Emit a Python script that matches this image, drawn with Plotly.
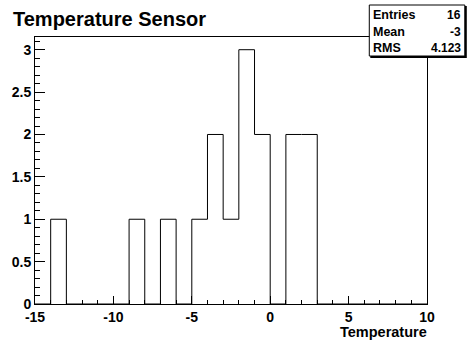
import plotly.graph_objects as go

# ---- data ----
bin_edges = list(range(-15, 11))
counts = [0, 1, 0, 0, 0, 0, 1, 0, 1, 0, 1, 2, 1, 3, 2, 0, 2, 2,
          0, 0, 0, 0, 0, 0, 0]
stat_names = ["Entries", "Mean", "RMS"]
stat_values = ["16", "-3", "4.123"]
title_text = "Temperature Sensor"
x_title = "Temperature"
x_ticks = [-15, -10, -5, 0, 5, 10]
y_ticks = [0, 0.5, 1, 1.5, 2, 2.5, 3]

W, H = 467, 345
L, R, T, B = 33, 427, 37, 304

def px(x):
    return (x - L) / (R - L)

def py(y):
    return (B - y) / (B - T)

FONT = "Liberation Sans, Arial, Helvetica, sans-serif"

fig = go.Figure()
fig.add_trace(go.Scatter(
    x=bin_edges, y=counts + [0], mode="lines", line_shape="hv",
    line=dict(color="black", width=1), hoverinfo="skip", showlegend=False))

axis_common = dict(
    showline=True, mirror=True, linecolor="black", linewidth=1,
    showgrid=False, zeroline=False, ticks="inside", tickcolor="black",
    tickwidth=1,
    tickfont=dict(family=FONT, size=14, color="black"),
)

fig.update_xaxes(range=[-15, 10], tickvals=x_ticks, ticklen=8,
                 ticktext=["<b>%g</b>" % v for v in x_ticks],
                 minor=dict(dtick=1, ticks="inside", ticklen=4, tickcolor="black"),
                 **axis_common)
fig.update_yaxes(range=[0, 3.15], tickvals=y_ticks, ticklen=10,
                 ticktext=["<b>%g</b>" % v for v in y_ticks],
                 minor=dict(dtick=0.1, ticks="inside", ticklen=5, tickcolor="black"),
                 **axis_common)

shapes = [
    # shadow of stats box
    dict(type="rect", xref="paper", yref="paper",
         x0=px(370), x1=px(467), y0=py(58), y1=py(6),
         fillcolor="black", line=dict(width=0), layer="above"),
    dict(type="rect", xref="paper", yref="paper",
         x0=px(369), x1=px(465), y0=py(56), y1=py(5),
         fillcolor="white", line=dict(color="black", width=1), layer="above"),
]

annotations = [
    dict(text="<b>%s</b>" % title_text, xref="paper", yref="paper", x=px(9), y=py(19),
         xanchor="left", yanchor="middle", showarrow=False,
         font=dict(family=FONT, size=20, color="black")),
    dict(text="<b>%s</b>" % x_title, xref="paper", yref="paper", x=px(429), y=py(332),
         xanchor="right", yanchor="middle", showarrow=False,
         font=dict(family=FONT, size=14.5, color="black")),
]
row_y = [15, 32, 48]
for name, val, yy in zip(stat_names, stat_values, row_y):
    annotations.append(dict(text="<b>%s</b>" % name, xref="paper", yref="paper", x=px(371), y=py(yy),
                            xanchor="left", yanchor="middle", showarrow=False,
                            font=dict(family=FONT, size=12.5, color="black")))
    annotations.append(dict(text="<b>%s</b>" % val, xref="paper", yref="paper", x=px(463), y=py(yy),
                            xanchor="right", yanchor="middle", showarrow=False,
                            font=dict(family=FONT, size=12, color="black")))

fig.update_layout(
    width=W, height=H,
    margin=dict(l=L, r=W - R, t=T, b=H - B, pad=0),
    paper_bgcolor="white", plot_bgcolor="white",
    shapes=shapes, annotations=annotations, showlegend=False,
)

fig.write_html("out.html")
